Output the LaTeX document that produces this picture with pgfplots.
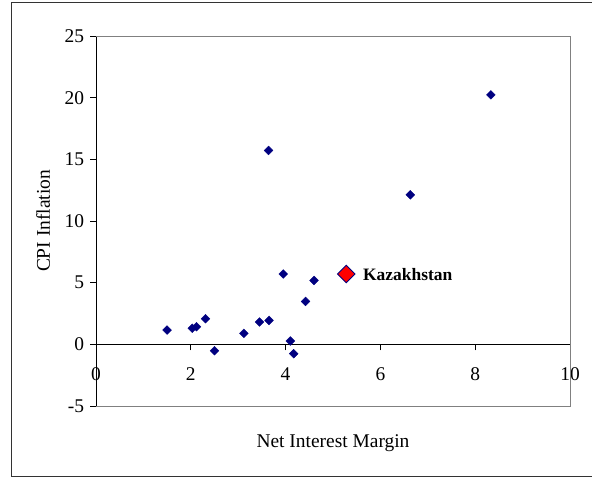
\documentclass[border=0pt]{standalone}
\usepackage{fontspec}
\setmainfont{Liberation Serif}
\usepackage{pgfplots}
\pgfplotsset{compat=1.18}
\definecolor{navy}{RGB}{0,0,128}
\definecolor{framegray}{RGB}{128,128,128}
\begin{document}
\begin{tikzpicture}[x=1bp,y=1bp]
\useasboundingbox (0,0) rectangle (592,478);
\draw[line width=1bp, black!80] (600,475) -- (11,475) -- (11,1.2) -- (600,1.2);
\begin{axis}[
  at={(96bp,72bp)}, anchor=south west,
  scale only axis, width=474bp, height=370bp,
  xmin=0, xmax=10, ymin=-5, ymax=25,
  axis x line=middle, axis y line=left,
  hide obscured x ticks=false, hide obscured y ticks=false,
  axis line style={-, black, line width=0.8bp},
  xtick={0,2,4,6,8,10}, ytick={-5,0,5,10,15,20,25},
  tick align=outside, major tick length=6bp,
  tick style={black, line width=0.8bp},
  /pgf/number format/assume math mode=true,
  tick label style={font=\fontsize{19.5}{23}\selectfont},
  xticklabel style={yshift=-13.5bp},
  yticklabel style={xshift=-2.5bp},
  xlabel={Net Interest Margin}, ylabel={CPI Inflation},
  label style={font=\fontsize{19.5}{23}\selectfont},
  xlabel style={at={(rel axis cs:0.5,-0.0992)}, anchor=center},
  ylabel style={at={(rel axis cs:-0.1118,0.5)}, anchor=center, rotate=0},
  clip=false,
]
\draw[framegray, line width=0.9bp] (rel axis cs:0,1) -- (rel axis cs:1,1) -- (rel axis cs:1,0) -- (rel axis cs:0,0);
\addplot[only marks, mark=square*, mark size=3.1bp, mark options={rotate=45, fill=navy, draw=navy}] coordinates {
(1.50,1.16) (2.03,1.30) (2.12,1.43) (2.31,2.08) (2.50,-0.52)
(3.12,0.89) (3.45,1.81) (3.65,1.94) (3.95,5.70) (4.10,0.27)
(4.17,-0.76) (4.42,3.48) (4.60,5.18) (3.64,15.72) (8.33,20.23)
(6.63,12.12)
};
\addplot[only marks, mark=square*, mark size=6.2bp, mark options={rotate=45, fill=red, draw=navy, line width=0.9bp},
  nodes near coords, point meta=explicit symbolic,
  nodes near coords style={anchor=base west, inner sep=0pt, xshift=16.4bp, yshift=-6bp, font=\bfseries\fontsize{17.5}{20}\selectfont, text=black}]
coordinates {(5.28,5.70) [Kazakhstan]};
\end{axis}
\end{tikzpicture}
\end{document}
